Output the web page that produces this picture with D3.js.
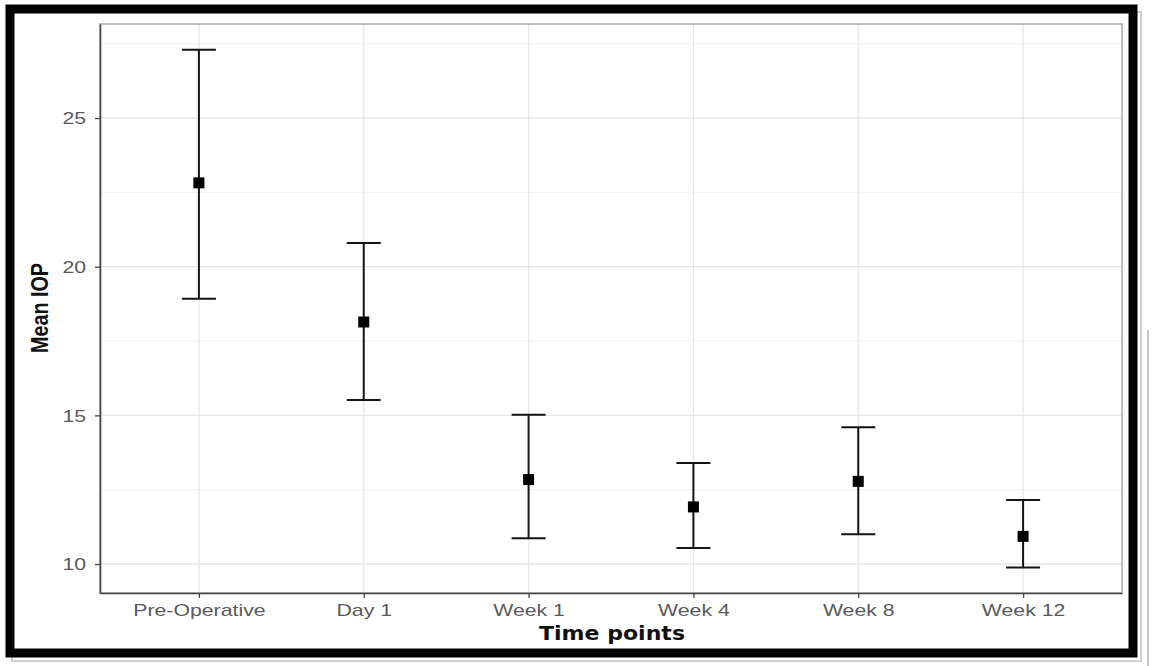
<!DOCTYPE html>
<html lang="en">
<head>
<meta charset="utf-8">
<title>Mean IOP over time</title>
<script src="https://cdn.jsdelivr.net/npm/d3@7"></script>
<style>
  body { margin: 0; background: #fff; }
  svg { display: block; }
</style>
</head>
<body>
<svg id="chart" width="1152" height="666"></svg>
<script>
// data
var timePoints = ["Pre-Operative", "Day 1", "Week 1", "Week 4", "Week 8", "Week 12"];
var meanIOP    = [22.82, 18.14, 12.84, 11.92, 12.78, 10.93];
var upperIOP   = [27.30, 20.80, 15.02, 13.40, 14.60, 12.15];
var lowerIOP   = [18.92, 15.52, 10.87, 10.54, 11.00, 9.88];
var yTicks     = [10, 15, 20, 25];
var yMinor     = [12.5, 17.5, 22.5, 27.5];

var rows = timePoints.map(function(t, i) {
  return { t: t, mean: meanIOP[i], hi: upperIOP[i], lo: lowerIOP[i] };
});

var svg = d3.select("#chart");
var pLeft = 100, pRight = 1122, pTop = 24, pBottom = 593;

var x = d3.scalePoint().domain(timePoints).range([pLeft, pRight]).padding(0.6);
var y = d3.scaleLinear().domain([9.025, 28.163]).range([pBottom, pTop]);

// outer frame + little shadow bits
svg.append("line").attr("x1", 1148).attr("x2", 1148).attr("y1", 330).attr("y2", 666)
  .attr("stroke", "#c4c4c4").attr("stroke-width", 2);
svg.append("rect").attr("x", 12).attr("y", 12).attr("width", 1129).attr("height", 649)
  .attr("fill", "none").attr("stroke", "#d0d0d0").attr("stroke-width", 2);
svg.append("rect").attr("x", 10).attr("y", 9).attr("width", 1123).attr("height", 644)
  .attr("fill", "#fff").attr("stroke", "#000").attr("stroke-width", 9);

// grid
var grid = svg.append("g");
grid.selectAll("line.minor").data(yMinor).enter().append("line")
  .attr("class", "minor")
  .attr("x1", pLeft).attr("x2", pRight)
  .attr("y1", function(d) { return y(d); }).attr("y2", function(d) { return y(d); })
  .attr("stroke", "#f1f1f1").attr("stroke-width", 1);
grid.selectAll("line.majory").data(yTicks).enter().append("line")
  .attr("class", "majory")
  .attr("x1", pLeft).attr("x2", pRight)
  .attr("y1", function(d) { return y(d); }).attr("y2", function(d) { return y(d); })
  .attr("stroke", "#e6e6e6").attr("stroke-width", 1.3);
grid.selectAll("line.majorx").data(timePoints).enter().append("line")
  .attr("class", "majorx")
  .attr("y1", pTop).attr("y2", pBottom)
  .attr("x1", function(d) { return x(d); }).attr("x2", function(d) { return x(d); })
  .attr("stroke", "#e6e6e6").attr("stroke-width", 1.3);

// panel border (top/right lighter)
svg.append("rect").attr("x", pLeft).attr("y", pTop)
  .attr("width", pRight - pLeft).attr("height", pBottom - pTop)
  .attr("fill", "none").attr("stroke", "#a8a8a8").attr("stroke-width", 1.5);

// axes
var xAxis = svg.append("g").attr("transform", "translate(0," + pBottom + ")")
  .call(d3.axisBottom(x).tickSize(5).tickSizeOuter(0));
var yAxis = svg.append("g").attr("transform", "translate(" + pLeft + ",0)")
  .call(d3.axisLeft(y).tickValues(yTicks).tickSize(5).tickSizeOuter(0));

[xAxis, yAxis].forEach(function(a) {
  a.select(".domain").attr("stroke", "#444").attr("stroke-width", 1.6);
  a.selectAll(".tick line").attr("stroke", "#444").attr("stroke-width", 1.3);
  a.selectAll(".tick text")
    .attr("fill", "#5a5a5a")
    .style("font-family", "'Liberation Sans', Arial, sans-serif")
    .style("font-size", "16px");
});
xAxis.selectAll(".tick text").attr("y", 12).attr("dy", "0.71em")
  .attr("transform", "scale(1.33,1)");
yAxis.selectAll(".tick text").attr("x", -10.5).attr("dy", "0.36em")
  .attr("transform", "scale(1.33,1)");

// error bars
var bars = svg.append("g").selectAll("g").data(rows).enter().append("g");
bars.append("line")
  .attr("x1", function(d) { return x(d.t); }).attr("x2", function(d) { return x(d.t); })
  .attr("y1", function(d) { return y(d.hi); }).attr("y2", function(d) { return y(d.lo); })
  .attr("stroke", "#141414").attr("stroke-width", 2);
["hi", "lo"].forEach(function(k) {
  bars.append("line")
    .attr("x1", function(d) { return x(d.t) - 17; }).attr("x2", function(d) { return x(d.t) + 17; })
    .attr("y1", function(d) { return y(d[k]); }).attr("y2", function(d) { return y(d[k]); })
    .attr("stroke", "#141414").attr("stroke-width", 2);
});
bars.append("rect")
  .attr("x", function(d) { return x(d.t) - 5.5; })
  .attr("y", function(d) { return y(d.mean) - 5.5; })
  .attr("width", 11).attr("height", 11)
  .attr("fill", "#000");

// titles
svg.append("text")
  .attr("x", 612).attr("y", 640)
  .attr("text-anchor", "middle")
  .attr("textLength", 146).attr("lengthAdjust", "spacingAndGlyphs")
  .style("font-family", "'DejaVu Sans', sans-serif")
  .style("font-weight", "bold")
  .style("font-size", "19px")
  .attr("fill", "#111")
  .text("Time points");

svg.append("text")
  .attr("transform", "translate(48,308) rotate(-90)")
  .attr("text-anchor", "middle")
  .attr("textLength", 90).attr("lengthAdjust", "spacingAndGlyphs")
  .style("font-family", "'Liberation Sans Narrow', 'Liberation Sans', sans-serif")
  .style("font-weight", "bold")
  .style("font-size", "23px")
  .attr("fill", "#111")
  .text("Mean IOP");
</script>
</body>
</html>
